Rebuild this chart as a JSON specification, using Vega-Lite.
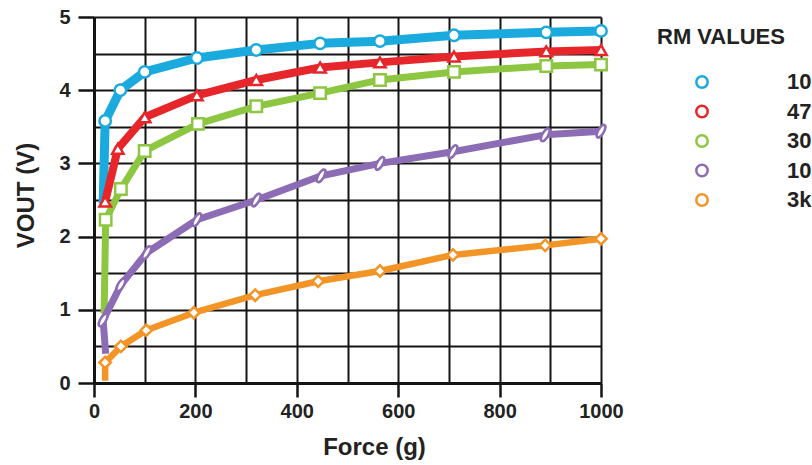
{
  "$schema": "https://vega.github.io/schema/vega-lite/v6.json",
  "width": 507,
  "height": 366,
  "autosize": {"type": "none"},
  "padding": {"left": 94, "top": 17, "right": 211, "bottom": 82},
  "background": "white",
  "config": {"view": {"stroke": null}, "font": "Liberation Sans"},
  "data": {
    "values": [
      {"Series": "100k", "F": 18, "V": 2.45, "i": 0},
      {"Series": "100k", "F": 22, "V": 3.58, "i": 1},
      {"Series": "100k", "F": 52, "V": 4.0, "i": 2},
      {"Series": "100k", "F": 100, "V": 4.25, "i": 3},
      {"Series": "100k", "F": 203, "V": 4.44, "i": 4},
      {"Series": "100k", "F": 320, "V": 4.55, "i": 5},
      {"Series": "100k", "F": 446, "V": 4.64, "i": 6},
      {"Series": "100k", "F": 564, "V": 4.67, "i": 7},
      {"Series": "100k", "F": 710, "V": 4.75, "i": 8},
      {"Series": "100k", "F": 892, "V": 4.79, "i": 9},
      {"Series": "100k", "F": 1000, "V": 4.81, "i": 10},
      {"Series": "47k", "F": 22, "V": 2.48, "i": 1},
      {"Series": "47k", "F": 47, "V": 3.2, "i": 2},
      {"Series": "47k", "F": 100, "V": 3.63, "i": 3},
      {"Series": "47k", "F": 203, "V": 3.93, "i": 4},
      {"Series": "47k", "F": 320, "V": 4.14, "i": 5},
      {"Series": "47k", "F": 446, "V": 4.31, "i": 6},
      {"Series": "47k", "F": 564, "V": 4.38, "i": 7},
      {"Series": "47k", "F": 710, "V": 4.46, "i": 8},
      {"Series": "47k", "F": 892, "V": 4.53, "i": 9},
      {"Series": "47k", "F": 1000, "V": 4.55, "i": 10},
      {"Series": "30k", "F": 20, "V": 0.95, "i": 0},
      {"Series": "30k", "F": 23, "V": 2.23, "i": 1},
      {"Series": "30k", "F": 53, "V": 2.65, "i": 2},
      {"Series": "30k", "F": 100, "V": 3.17, "i": 3},
      {"Series": "30k", "F": 205, "V": 3.54, "i": 4},
      {"Series": "30k", "F": 320, "V": 3.78, "i": 5},
      {"Series": "30k", "F": 446, "V": 3.96, "i": 6},
      {"Series": "30k", "F": 564, "V": 4.14, "i": 7},
      {"Series": "30k", "F": 710, "V": 4.25, "i": 8},
      {"Series": "30k", "F": 892, "V": 4.33, "i": 9},
      {"Series": "30k", "F": 1000, "V": 4.35, "i": 10},
      {"Series": "10k", "F": 23, "V": 0.4, "i": 0},
      {"Series": "10k", "F": 18, "V": 0.86, "i": 1},
      {"Series": "10k", "F": 53, "V": 1.34, "i": 2},
      {"Series": "10k", "F": 104, "V": 1.78, "i": 3},
      {"Series": "10k", "F": 203, "V": 2.23, "i": 4},
      {"Series": "10k", "F": 320, "V": 2.5, "i": 5},
      {"Series": "10k", "F": 448, "V": 2.83, "i": 6},
      {"Series": "10k", "F": 564, "V": 3.0, "i": 7},
      {"Series": "10k", "F": 708, "V": 3.16, "i": 8},
      {"Series": "10k", "F": 890, "V": 3.39, "i": 9},
      {"Series": "10k", "F": 1000, "V": 3.44, "i": 10},
      {"Series": "3k", "F": 22, "V": 0.03, "i": 0},
      {"Series": "3k", "F": 22, "V": 0.28, "i": 1},
      {"Series": "3k", "F": 53, "V": 0.5, "i": 2},
      {"Series": "3k", "F": 103, "V": 0.72, "i": 3},
      {"Series": "3k", "F": 197, "V": 0.96, "i": 4},
      {"Series": "3k", "F": 318, "V": 1.2, "i": 5},
      {"Series": "3k", "F": 442, "V": 1.39, "i": 6},
      {"Series": "3k", "F": 564, "V": 1.53, "i": 7},
      {"Series": "3k", "F": 708, "V": 1.75, "i": 8},
      {"Series": "3k", "F": 890, "V": 1.88, "i": 9},
      {"Series": "3k", "F": 1000, "V": 1.97, "i": 10}
    ]
  },
  "layer": [
    {
      "mark": {"type": "line", "strokeJoin": "round", "strokeCap": "butt"},
      "encoding": {
        "x": {
          "field": "F", "type": "quantitative",
          "scale": {"domain": [0, 1000], "nice": false},
          "axis": {"orient": "bottom", "values": [0, 100, 200, 300, 400, 500, 600, 700, 800, 900, 1000], "grid": true, "gridColor": "#141414", "gridWidth": 2, "gridOpacity": 1, "labels": false, "ticks": false, "domain": false, "title": null}
        },
        "y": {
          "field": "V", "type": "quantitative",
          "scale": {"domain": [0, 5], "nice": false},
          "axis": {"orient": "left", "values": [0, 0.5, 1, 1.5, 2, 2.5, 3, 3.5, 4, 4.5, 5], "grid": true, "gridColor": "#141414", "gridWidth": 2, "gridOpacity": 1, "labels": false, "ticks": false, "domain": false, "title": null}
        },
        "color": {
          "field": "Series", "type": "nominal",
          "scale": {"domain": ["3k", "10k", "30k", "47k", "100k"], "range": ["#f39426", "#8c6cb4", "#8dc641", "#e6262b", "#1aaade"]},
          "legend": null
        },
        "strokeWidth": {
          "field": "Series", "type": "nominal",
          "scale": {"type": "ordinal", "domain": ["3k", "10k", "30k", "47k", "100k"], "range": [6.5, 7, 7, 8, 9]},
          "legend": null
        },
        "order": {"field": "i", "type": "quantitative"}
      }
    },
    {
      "transform": [{"filter": "datum.i > 0"}],
      "mark": {"type": "point", "filled": true, "fill": "white", "strokeWidth": 2.5, "size": 130, "opacity": 1},
      "encoding": {
        "x": {
          "field": "F", "type": "quantitative",
          "axis": {"orient": "bottom", "values": [0, 200, 400, 600, 800, 1000], "format": "d", "grid": false, "domain": true, "domainColor": "#141414", "domainWidth": 3, "ticks": true, "tickSize": 14, "tickWidth": 2.5, "tickColor": "#141414", "labelFont": "Liberation Sans", "labelFontSize": 20, "labelFontWeight": "bold", "labelColor": "#222222", "labelPadding": 4, "labelFlush": false, "labelOverlap": false, "labelBound": false, "title": "Force (g)", "titleFont": "Liberation Sans", "titleFontSize": 24, "titleFontWeight": "bold", "titleColor": "#222222", "titleX": 280, "titleY": 64, "titleBaseline": "middle", "titleAlign": "center"}
        },
        "y": {
          "field": "V", "type": "quantitative",
          "axis": {"orient": "left", "values": [0, 1, 2, 3, 4, 5], "grid": false, "domain": true, "domainColor": "#141414", "domainWidth": 3, "ticks": true, "tickSize": 16, "tickWidth": 2.5, "tickColor": "#141414", "labelFont": "Liberation Sans", "labelFontSize": 20, "labelFontWeight": "bold", "labelColor": "#222222", "labelPadding": 8, "labelFlush": false, "labelOverlap": false, "labelBound": false, "title": "VOUT (V)", "titleFont": "Liberation Sans", "titleFontSize": 24, "titleFontWeight": "bold", "titleColor": "#222222", "titleX": -68, "titleY": 178, "titleAngle": -90, "titleBaseline": "middle", "titleAlign": "center"}
        },
        "stroke": {
          "field": "Series", "type": "nominal",
          "scale": {"domain": ["100k", "47k", "30k", "10k", "3k"], "range": ["#1aaade", "#e6262b", "#8dc641", "#8c6cb4", "#f39426"]},
          "legend": {
            "title": "RM VALUES", "orient": "none", "legendX": 563, "legendY": 10,
            "titleFont": "Liberation Sans", "titleFontSize": 22, "titleFontWeight": "bold", "titleColor": "#222222", "titlePadding": 22,
            "labelFont": "Liberation Sans", "labelFontSize": 22, "labelFontWeight": "bold", "labelColor": "#222222", "labelOffset": 74,
            "symbolType": "circle", "symbolSize": 130, "symbolStrokeWidth": 2.5, "symbolOffset": 34, "rowPadding": 7.5,
            "encode": {
              "symbols": {
                "fill": {"value": {"expr": "scale('stroke', datum.value)"}},
                "strokeWidth": {"value": 0},
                "opacity": {"value": 1},
                "size": {"value": 16},
                "shape": {"value": {"expr": "datum.value === '100k' ? 'M-22.5,-1.5L-3.25,-1.5L-3.25,1.5L-22.5,1.5ZM3.25,-1.5L22.5,-1.5L22.5,1.5L3.25,1.5ZM-3.5,0A3.5,3.5,0,1,1,3.5,0A3.5,3.5,0,1,1,-3.5,0ZM-2.25,0A2.25,2.25,0,1,0,2.25,0A2.25,2.25,0,1,0,-2.25,0Z' : datum.value === '47k' ? 'M-22.5,-1.5L-2.1,-1.5L-2.1,1.5L-22.5,1.5ZM2.1,-1.5L22.5,-1.5L22.5,1.5L2.1,1.5ZM0,-4L3.6,2.5L-3.6,2.5ZM0,-1.5L-1.5,1.25L1.5,1.25Z' : datum.value === '30k' ? 'M-22.5,-1.5L-3,-1.5L-3,1.5L-22.5,1.5ZM3,-1.5L22.5,-1.5L22.5,1.5L3,1.5ZM-3.25,-3.25L3.25,-3.25L3.25,3.25L-3.25,3.25ZM-2,-2L-2,2L2,2L2,-2Z' : datum.value === '10k' ? 'M-22.5,-1.5L-1.9,-1.5L-1.9,1.5L-22.5,1.5ZM1.9,-1.5L22.5,-1.5L22.5,1.5L1.9,1.5ZM-2,3.464A1.75,4,30,0,1,2,-3.464A1.75,4,30,0,1,-2,3.464ZM-1.425,2.468A0.6,2.85,30,0,0,1.425,-2.468A0.6,2.85,30,0,0,-1.425,2.468Z' : 'M-22.5,-1.5L-2.5,-1.5L-2.5,1.5L-22.5,1.5ZM2.5,-1.5L22.5,-1.5L22.5,1.5L2.5,1.5ZM0,-3.75L3.75,0L0,3.75L-3.75,0ZM0,-2.25L-2.25,0L0,2.25L2.25,0Z'"}}
              }
            }
          }
        },
        "shape": {
          "field": "Series", "type": "nominal",
          "scale": {"domain": ["3k", "10k", "30k", "47k", "100k"], "range": ["diamond", "M-0.625,1.0825A0.5,1.25,30,0,1,0.625,-1.0825A0.5,1.25,30,0,1,-0.625,1.0825Z", "square", "triangle-up", "circle"]},
          "legend": null
        }
      }
    }
  ],
  "resolve": {"axis": {"x": "independent", "y": "independent"}}
}
